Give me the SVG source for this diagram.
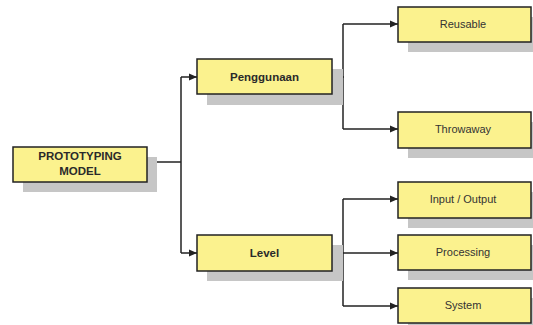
<svg xmlns="http://www.w3.org/2000/svg" width="533" height="325" viewBox="0 0 533 325">
<style>
.shadow{fill:#c6c6c6}
.box{fill:#fbf28e;stroke:#222;stroke-width:1.5}
.t{font-family:"Liberation Sans",Arial,sans-serif;font-size:11px;fill:#333;text-anchor:middle}
.b{font-weight:bold;font-size:11.5px;fill:#2a2a2a}
.c{fill:none;stroke:#222;stroke-width:1.5}
</style>
<defs>
<marker id="ah" viewBox="0 0 8 8" refX="8" refY="4" markerWidth="8" markerHeight="8" markerUnits="userSpaceOnUse" orient="auto">
<path d="M0,0.5 L8,4 L0,7.5 Z" fill="#222"/>
</marker>
</defs>
<rect width="533" height="325" fill="#fff"/>
<g id="connectors">
<path class="c" d="M147,162 H181"/>
<path class="c" d="M181,77 V253"/>
<path class="c" d="M181,77 H197" marker-end="url(#ah)"/>
<path class="c" d="M181,253 H197" marker-end="url(#ah)"/>
<path class="c" d="M332,77 H344"/>
<path class="c" d="M343,24 V129"/>
<path class="c" d="M343,24 H398" marker-end="url(#ah)"/>
<path class="c" d="M343,129 H398" marker-end="url(#ah)"/>
<path class="c" d="M332,253 H398" marker-end="url(#ah)"/>
<path class="c" d="M343,199 V306"/>
<path class="c" d="M343,199 H398" marker-end="url(#ah)"/>
<path class="c" d="M343,306 H398" marker-end="url(#ah)"/>
</g>
<g id="prototyping">
<rect class="shadow" x="23" y="157" width="134" height="35"/>
<rect class="box" x="13" y="147" width="134" height="35"/>
<text class="t b" x="80" y="160">PROTOTYPING</text>
<text class="t b" x="80" y="175">MODEL</text>
</g>
<g id="penggunaan">
<rect class="shadow" x="207" y="69" width="136" height="36"/>
<rect class="box" x="197" y="59" width="135" height="35"/>
<text class="t b" x="264.5" y="81">Penggunaan</text>
</g>
<g id="level">
<rect class="shadow" x="207" y="245" width="136" height="36"/>
<rect class="box" x="197" y="235" width="135" height="36"/>
<text class="t b" x="264.5" y="257">Level</text>
</g>
<g id="reusable">
<rect class="shadow" x="408" y="17" width="133" height="35"/>
<rect class="box" x="398" y="7" width="133" height="35"/>
<text class="t" x="463" y="28">Reusable</text>
</g>
<g id="throwaway">
<rect class="shadow" x="408" y="122" width="133" height="36"/>
<rect class="box" x="398" y="112" width="133" height="36"/>
<text class="t" x="463" y="133">Throwaway</text>
</g>
<g id="inputoutput">
<rect class="shadow" x="408" y="192" width="133" height="36"/>
<rect class="box" x="398" y="182" width="133" height="36"/>
<text class="t" x="463" y="203">Input / Output</text>
</g>
<g id="processing">
<rect class="shadow" x="408" y="245" width="133" height="35"/>
<rect class="box" x="398" y="235" width="133" height="35"/>
<text class="t" x="463" y="256">Processing</text>
</g>
<g id="system">
<rect class="shadow" x="408" y="298" width="133" height="35"/>
<rect class="box" x="398" y="288" width="133" height="35"/>
<text class="t" x="463" y="309">System</text>
</g>
</svg>
